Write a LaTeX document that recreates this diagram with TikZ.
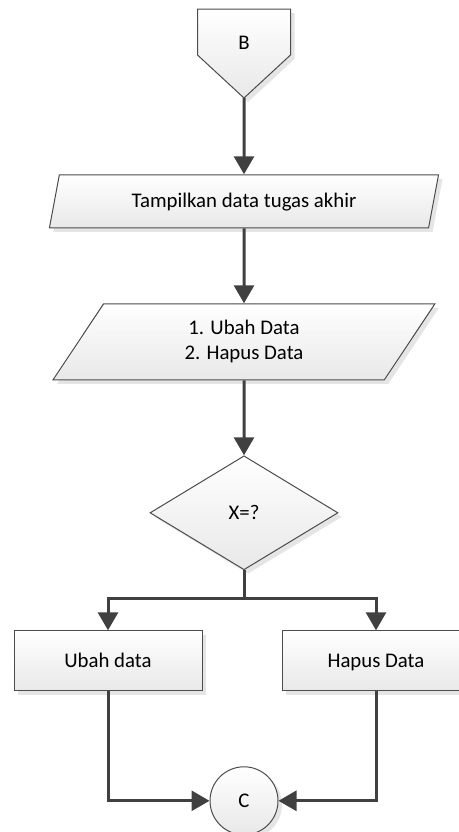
\documentclass[tikz,border=0pt]{standalone}
\usepackage{fontspec}
\setmainfont{Carlito}
\usetikzlibrary{positioning,shapes.geometric,arrows.meta,shadows,calc}

\begin{document}
\begin{tikzpicture}[x=0.75pt, y=-0.75pt, node distance=56.25pt,
		font=\fontsize{15.6pt}{18.75pt}\selectfont,
		shape line/.style={draw=black!70, line width=0.75pt, top color=white, bottom color=black!9,
			general shadow={fill=black!10, shadow xshift=3pt, shadow yshift=-3pt}},
		one line/.style={text height=10pt, text depth=0pt},
		io node/.style={shape line, trapezium, trapezium stretches=true, align=center, inner sep=0pt},
		process node/.style={shape line, one line, rectangle, minimum width=141pt, minimum height=45pt},
		decision node/.style={shape line, one line, diamond, aspect=1.65, inner sep=0pt, minimum width=141pt, minimum height=85.5pt},
		connector node/.style={shape line, one line, circle, minimum size=51pt, inner sep=0pt},
		line/.style={draw=black!75, line width=2.25pt},
		flow/.style={line, -{Triangle[length=13.5pt,width=15pt]}}]
		
		\useasboundingbox (0,0) rectangle (459,832);
		\clip (0,0) rectangle (459,832);
		
		% off-page connector
		\coordinate (Btop) at (244,9);
		\coordinate (Btip) at (244,98);
		\path[shape line] ($(Btop)+(-46.5,0)$) -- ++(93,0) -- ++(0,46) -- (Btip) -- ($(Btop)+(-46.5,46)$) -- cycle;
		\node[one line, minimum width=69.75pt, minimum height=51pt] (B) at (244,43) {B};
		
		\node[io node, one line, minimum width=292.5pt, minimum height=39.75pt,
			trapezium left angle=65.6, trapezium right angle=114.4] (show) [below=72.75pt of B] {Tampilkan data tugas akhir};
		\node[io node, minimum width=286.5pt, minimum height=57pt,
			trapezium left angle=63.4, trapezium right angle=116.6] (menu) [below=of show] {1. Ubah Data\\2. Hapus Data};
		\node[decision node] (choice) [below=of menu] {X=?};
		\node[process node] (edit) [below=45pt of choice, xshift=-102pt] {Ubah data};
		\node[process node] (delete) [below=45pt of choice, xshift=99pt] {Hapus Data};
		\node[connector node] (C) [below=147pt of choice] {C};
		
		\coordinate (split) at ($(choice.south)+(0,28)$);
		
		\path (Btip) edge[flow] (show)
		(show) edge[flow] (menu)
		(menu) edge[flow] (choice);
		\draw[line] (choice) -- (split);
		\draw[flow] (split) -| (edit);
		\draw[flow] (split) -| (delete);
		\draw[flow] (edit) |- (C);
		\draw[flow] (delete) |- (C);
		\end{tikzpicture}
\end{document}
